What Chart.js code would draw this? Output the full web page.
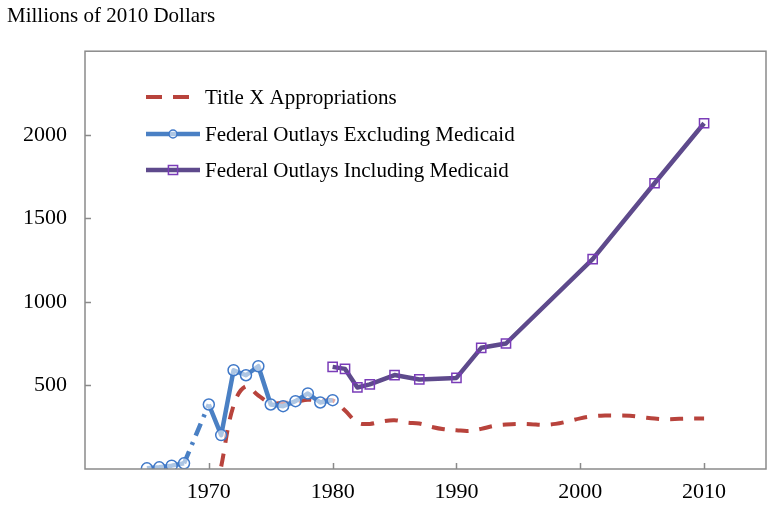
<!DOCTYPE html>
<html><head><meta charset="utf-8">
<script src="https://cdn.jsdelivr.net/npm/chart.js@4"></script>
<style>html,body{margin:0;padding:0;background:#fff}#wrap{width:776px;height:513px}</style>
</head><body><div id="wrap"><canvas id="c"></canvas></div>
<script>
const titleText = 'Millions of 2010 Dollars';
const seriesNames = ['Title X Appropriations', 'Federal Outlays Excluding Medicaid', 'Federal Outlays Including Medicaid'];

const titleXYears = [1971,1972,1973,1974,1975,1976,1977,1978,1979,1980,1981,1982,1983,1984,1985,1986,1987,1988,1989,1990,1991,1992,1993,1994,1995,1996,1997,1998,1999,2000,2001,2002,2003,2004,2005,2006,2007,2008,2009,2010];
const titleXValues = [15,380,495,440,395,395,400,415,405,410,350,278,270,285,292,278,272,252,238,232,228,240,258,266,270,268,264,270,285,303,315,320,320,318,310,302,298,300,302,302];

const exclYears = [1965,1966,1967,1968,1969,1970,1971,1972,1973,1974,1975,1976,1977,1978,1979,1980];
const exclValues = [4,10,20,34,null,386,203,591,561,615,386,376,406,452,398,412];

const inclYears = [1980,1981,1982,1983,1985,1987,1990,1992,1994,2001,2006,2010];
const inclValues = [611,599,488,506,562,536,545,725,751,1256,1710,2069];

const xTicks = [1970,1980,1990,2000,2010];
const yTicks = [500,1000,1500,2000];

const FONT = 'Liberation Serif, "Times New Roman", serif';
const toPts = (xs, ys) => xs.map((x, i) => ({x: x, y: ys[i]}));

const framePlugin = {
  id: 'frame',
  afterDatasetsDraw(chart) {
    const {ctx, chartArea: a, scales} = chart;
    ctx.save();
    ctx.strokeStyle = '#8a8a8a';
    ctx.lineWidth = 1.5;
    ctx.strokeRect(a.left, a.top, a.right - a.left, a.bottom - a.top);
    ctx.beginPath();
    xTicks.forEach(t => {
      const px = Math.round(scales.x.getPixelForValue(t)) + 0.5;
      ctx.moveTo(px, a.bottom); ctx.lineTo(px, a.bottom - 6);
    });
    yTicks.forEach(t => {
      const py = Math.round(scales.y.getPixelForValue(t)) + 0.5;
      ctx.moveTo(a.left, py); ctx.lineTo(a.left + 6, py);
    });
    ctx.stroke();
    ctx.restore();
  }
};

const legendPlugin = {
  id: 'customLegend',
  afterDraw(chart) {
    const ctx = chart.ctx;
    const rows = [97, 134, 170];
    const x0 = 146, x1 = 200, tx = 205;
    ctx.save();
    chart.data.datasets.forEach((ds, i) => {
      const y = rows[i];
      ctx.beginPath();
      ctx.strokeStyle = ds.borderColor;
      ctx.lineWidth = ds.borderWidth;
      ctx.setLineDash(ds.legendDash || []);
      ctx.moveTo(x0, y); ctx.lineTo(x1, y);
      ctx.stroke();
      ctx.setLineDash([]);
      if (ds.pointRadius > 0) {
        ctx.lineWidth = ds.pointBorderWidth;
        ctx.strokeStyle = ds.pointBorderColor;
        ctx.fillStyle = ds.pointBackgroundColor;
        const cx = (x0 + x1) / 2;
        ctx.beginPath();
        if (ds.pointStyle === 'rect') {
          const s = ds.pointRadius * Math.SQRT1_2;
          ctx.rect(cx - s, y - s, 2 * s, 2 * s);
        } else {
          ctx.arc(cx, y, ds.pointRadius - 1.5, 0, Math.PI * 2);
        }
        ctx.fill(); ctx.stroke();
      }
      ctx.fillStyle = '#000';
      ctx.font = '21px ' + FONT;
      ctx.textBaseline = 'middle';
      ctx.textAlign = 'left';
      ctx.fillText(ds.label, tx, y + 1);
    });
    ctx.restore();
  }
};

new Chart(document.getElementById('c'), {
  type: 'line',
  data: {
    datasets: [
      {
        label: seriesNames[0],
        data: toPts(titleXYears, titleXValues),
        borderColor: '#B8433C',
        borderWidth: 4,
        borderDash: [13, 11],
        legendDash: [16, 11],
        tension: 0.4,
        pointRadius: 0,
        order: 3
      },
      {
        label: seriesNames[1],
        data: toPts(exclYears, exclValues),
        borderColor: '#4A80C4',
        borderWidth: 4.5,
        borderJoinStyle: 'round',
        pointStyle: 'circle',
        pointRadius: 5.5,
        pointBorderWidth: 1.5,
        pointBorderColor: '#3F78C8',
        pointBackgroundColor: 'rgba(255,255,255,0.55)',
        spanGaps: true,
        segment: {
          borderDash: ctx => (ctx.p0.skip || ctx.p1.skip) ? [13, 7, 3, 7] : undefined
        },
        order: 2
      },
      {
        label: seriesNames[2],
        data: toPts(inclYears, inclValues),
        borderColor: '#5E4A8C',
        borderWidth: 4.5,
        borderJoinStyle: 'round',
        pointStyle: 'rect',
        pointRadius: 6.5,
        pointBorderWidth: 1.5,
        pointBorderColor: '#7A3CB8',
        pointBackgroundColor: 'rgba(255,255,255,0)',
        order: 1
      }
    ]
  },
  options: {
    responsive: true,
    maintainAspectRatio: false,
    animation: false,
    layout: { padding: { left: 7, right: 10, top: 0, bottom: 0 } },
    plugins: {
      legend: { display: false },
      tooltip: { enabled: false },
      title: {
        display: true,
        text: titleText,
        align: 'start',
        color: '#000',
        font: { family: FONT, size: 21, weight: 'normal', lineHeight: 1.2 },
        padding: { top: 4, bottom: 22 }
      }
    },
    scales: {
      x: {
        type: 'linear',
        min: 1960, max: 2015,
        afterBuildTicks: s => { s.ticks = xTicks.map(v => ({value: v})); },
        afterFit: s => { s.height = 44; },
        grid: { display: false, drawTicks: false },
        border: { display: false },
        ticks: { color: '#000', padding: 10, maxRotation: 0, font: { family: FONT, size: 22 }, callback: v => String(v) }
      },
      y: {
        type: 'linear',
        min: 0, max: 2500,
        afterBuildTicks: s => { s.ticks = yTicks.map(v => ({value: v})); },
        afterFit: s => { s.width = 78; },
        grid: { display: false, drawTicks: false },
        border: { display: false },
        ticks: { color: '#000', padding: 18, font: { family: FONT, size: 22 }, callback: v => String(v) }
      }
    }
  },
  plugins: [framePlugin, legendPlugin]
});
</script>
</body></html>
